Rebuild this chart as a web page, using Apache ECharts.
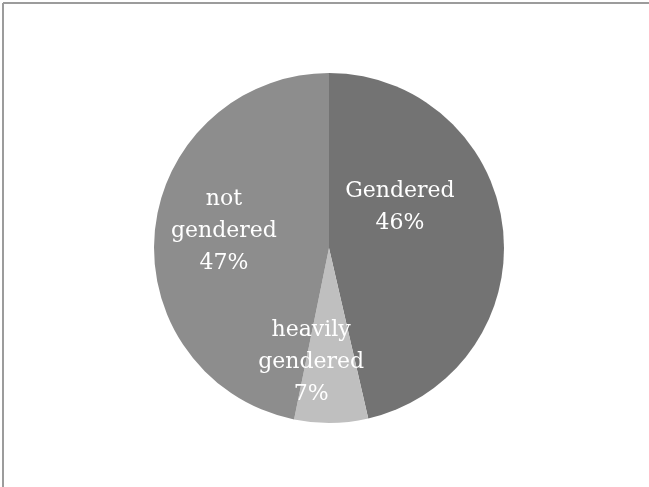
<!DOCTYPE html>
<html>
<head>
<meta charset="utf-8">
<script src="https://cdn.jsdelivr.net/npm/echarts@6/dist/echarts.min.js"></script>
<style>
html,body{margin:0;padding:0;background:#fff;}
#chart{width:649px;height:487px;}
</style>
</head>
<body>
<div id="chart"></div>
<script>
var categories = ['Gendered', 'heavily\ngendered', 'not\ngendered'];
var values = [46.4, 6.8, 46.8];

var colors = ['#737373', '#bfbfbf', '#8d8d8d'];
var labelShift = [[-19, -31], [-19, 24], [-15, -8]];

var chart = echarts.init(document.getElementById('chart'), null, {renderer: 'canvas'});
chart.setOption({
  backgroundColor: '#ffffff',
  animation: false,
  graphic: [
    {type: 'line', shape: {x1: 3, y1: 3, x2: 660, y2: 3}, style: {stroke: '#9c9c9c', lineWidth: 2}},
    {type: 'line', shape: {x1: 3, y1: 3, x2: 3, y2: 500}, style: {stroke: '#9c9c9c', lineWidth: 2}}
  ],
  series: [{
    type: 'pie',
    center: [329, 248],
    radius: [0, 175],
    startAngle: 90,
    clockwise: true,
    avoidLabelOverlap: false,
    data: categories.map(function (c, i) {
      return {name: c, value: values[i], itemStyle: {color: colors[i]}};
    }),
    itemStyle: {borderWidth: 0},
    label: {
      show: true,
      position: 'inside',
      formatter: function (p) { return p.name + '\n' + Math.round(p.value) + '%'; },
      color: '#ffffff',
      fontFamily: 'DejaVu Serif',
      fontSize: 22,
      lineHeight: 32,
      align: 'center'
    },
    labelLine: {show: false},
    labelLayout: function (p) {
      var s = labelShift[p.dataIndex];
      return {dx: s[0], dy: s[1]};
    },
    emphasis: {disabled: true}
  }]
});
</script>
</body>
</html>
